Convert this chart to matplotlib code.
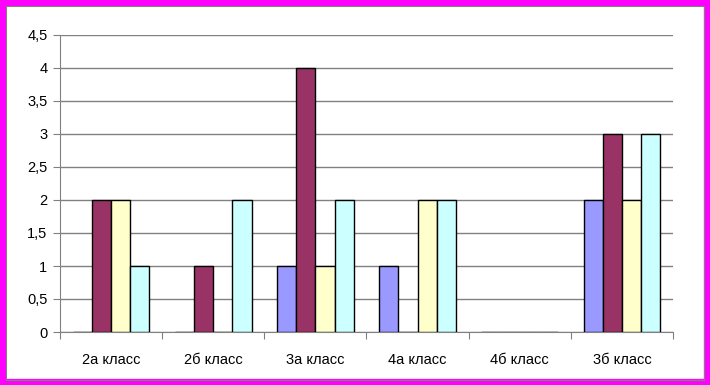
import matplotlib.pyplot as plt
import matplotlib.patches as mpatches
import numpy as np

plt.rcParams['font.family'] = ['Liberation Sans', 'DejaVu Sans']

categories = ['2а класс', '2б класс', '3а класс', '4а класс', '4б класс', '3б класс']
series1 = [0, 0, 1, 1, 0, 2]
series2 = [2, 1, 4, 0, 0, 3]
series3 = [2, 0, 1, 2, 0, 2]
series4 = [1, 2, 2, 2, 0, 3]
colors = ['#9999FF', '#993366', '#FFFFCC', '#CCFFFF']

fig = plt.figure(figsize=(7.1, 3.85), dpi=100)
ax = fig.add_axes([60 / 710, 1 - 332 / 385, 613 / 710, 297 / 385])

x = np.arange(len(categories))
w = 0.1875
for i, vals in enumerate([series1, series2, series3, series4]):
    ax.bar(x + (i - 1.5) * w, vals, w, color=colors[i], edgecolor='black',
           linewidth=1.0, zorder=3)

ax.set_xlim(-0.5, len(categories) - 0.5)
ax.set_ylim(0, 4.5)
yt = np.arange(0, 4.51, 0.5)
ax.set_yticks(yt)
ax.set_yticklabels([('%g' % v).replace('.', ',') for v in yt], fontsize=10.5)
ax.yaxis.grid(True, color='#808080', linewidth=1.0, zorder=0)

ax.set_xticks(np.arange(-0.5, len(categories), 1.0))
ax.set_xticklabels([])
ax.set_xticks(x, minor=True)
ax.set_xticklabels(categories, minor=True, fontsize=10.5)
ax.tick_params(axis='x', which='minor', length=0, pad=15)
ax.tick_params(axis='x', which='major', length=5, color='#808080')
ax.tick_params(axis='y', length=5, color='#808080', pad=4)

for side in ['top', 'right']:
    ax.spines[side].set_visible(False)
for side in ['left', 'bottom']:
    ax.spines[side].set_color('#808080')

# magenta frame with thin grey inner line
fig.patches.append(mpatches.Rectangle((3 / 710, 3 / 385), 704 / 710, 379 / 385,
                                      transform=fig.transFigure, fill=False,
                                      edgecolor='#FF00FF', linewidth=4.5))
fig.patches.append(mpatches.Rectangle((6 / 710, 5 / 385), 698 / 710, 374 / 385,
                                      transform=fig.transFigure, fill=False,
                                      edgecolor='#808080', linewidth=0.8))

fig.savefig('out.png', dpi=100)
